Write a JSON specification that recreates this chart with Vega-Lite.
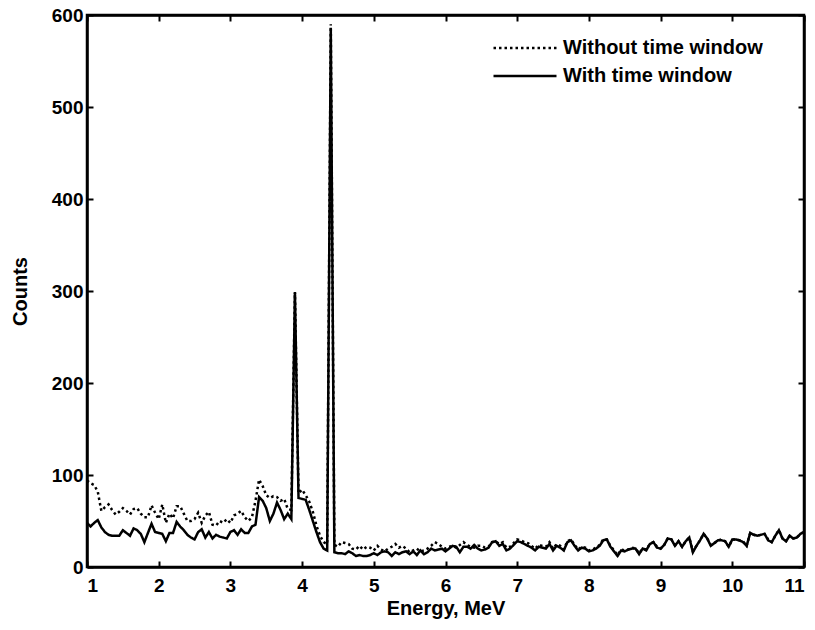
{
"$schema": "https://vega.github.io/schema/vega-lite/v6.json",
"width": 717, "height": 552,
"autosize": "none",
"padding": {"left": 87, "top": 15, "right": 11, "bottom": 63},
"background": "white",
"config": {
  "view": {"stroke": "black", "strokeWidth": 2.5},
  "axis": {"domainColor": "black", "domainWidth": 2.5, "tickColor": "black", "tickWidth": 2, "tickSize": -6, "grid": false,
    "labelFont": "Liberation Sans", "labelFontWeight": "bold", "labelFontSize": 19, "labelColor": "black",
    "titleFont": "Liberation Sans", "titleFontWeight": "bold", "titleFontSize": 20, "titleColor": "black"}
},
"data": {"values": [
{"E":1.00,"wo":94,"w":48},{"E":1.05,"wo":91,"w":44},{"E":1.10,"wo":89,"w":48},{"E":1.15,"wo":82,"w":51},{"E":1.20,"wo":61,"w":43},
{"E":1.25,"wo":65,"w":38},{"E":1.30,"wo":68,"w":35},{"E":1.35,"wo":62,"w":34},{"E":1.40,"wo":57,"w":34},{"E":1.45,"wo":60,"w":34},
{"E":1.50,"wo":64,"w":40},{"E":1.55,"wo":61,"w":37},{"E":1.60,"wo":57,"w":34},{"E":1.65,"wo":63,"w":42},{"E":1.70,"wo":64,"w":40},
{"E":1.75,"wo":58,"w":36},{"E":1.80,"wo":54,"w":27},{"E":1.85,"wo":54,"w":37},{"E":1.90,"wo":67,"w":47},{"E":1.95,"wo":59,"w":38},
{"E":2.00,"wo":52,"w":37},{"E":2.05,"wo":68,"w":36},{"E":2.10,"wo":48,"w":28},{"E":2.15,"wo":58,"w":37},{"E":2.20,"wo":53,"w":37},
{"E":2.25,"wo":66,"w":49},{"E":2.30,"wo":66,"w":44},{"E":2.35,"wo":58,"w":40},{"E":2.40,"wo":50,"w":35},{"E":2.45,"wo":50,"w":32},
{"E":2.50,"wo":52,"w":30},{"E":2.55,"wo":59,"w":38},{"E":2.60,"wo":48,"w":41},{"E":2.65,"wo":56,"w":32},{"E":2.70,"wo":60,"w":38},
{"E":2.75,"wo":46,"w":31},{"E":2.80,"wo":45,"w":35},{"E":2.85,"wo":50,"w":33},{"E":2.90,"wo":48,"w":32},{"E":2.95,"wo":52,"w":31},
{"E":3.00,"wo":48,"w":38},{"E":3.05,"wo":56,"w":40},{"E":3.10,"wo":58,"w":35},{"E":3.15,"wo":61,"w":41},{"E":3.20,"wo":54,"w":37},
{"E":3.25,"wo":50,"w":37},{"E":3.30,"wo":54,"w":44},{"E":3.35,"wo":72,"w":46},{"E":3.40,"wo":95,"w":76},{"E":3.45,"wo":88,"w":72},
{"E":3.50,"wo":78,"w":64},{"E":3.55,"wo":75,"w":50},{"E":3.60,"wo":77,"w":58},{"E":3.65,"wo":76,"w":70},{"E":3.70,"wo":72,"w":62},
{"E":3.75,"wo":74,"w":52},{"E":3.80,"wo":63,"w":58},{"E":3.85,"wo":62,"w":52},{"E":3.90,"wo":299,"w":298},{"E":3.95,"wo":80,"w":75},
{"E":4.00,"wo":84,"w":74},{"E":4.05,"wo":78,"w":73},{"E":4.10,"wo":71,"w":62},{"E":4.15,"wo":60,"w":50},{"E":4.20,"wo":45,"w":38},
{"E":4.25,"wo":34,"w":27},{"E":4.30,"wo":27,"w":20},{"E":4.35,"wo":25,"w":18},{"E":4.40,"wo":590,"w":586},{"E":4.45,"wo":24,"w":16},
{"E":4.50,"wo":22,"w":15},{"E":4.55,"wo":27,"w":15},{"E":4.60,"wo":26,"w":14},{"E":4.65,"wo":25,"w":17},{"E":4.70,"wo":20,"w":15},
{"E":4.75,"wo":19,"w":12},{"E":4.80,"wo":23,"w":13},{"E":4.85,"wo":19,"w":12},{"E":4.90,"wo":22,"w":12},{"E":4.95,"wo":21,"w":13},
{"E":5.00,"wo":18,"w":15},{"E":5.05,"wo":23,"w":13},{"E":5.10,"wo":19,"w":16},{"E":5.15,"wo":17,"w":17},{"E":5.20,"wo":20,"w":16},
{"E":5.25,"wo":22,"w":12},{"E":5.30,"wo":25,"w":16},{"E":5.35,"wo":21,"w":14},{"E":5.40,"wo":23,"w":16},{"E":5.45,"wo":20,"w":17},
{"E":5.50,"wo":16,"w":14},{"E":5.55,"wo":18,"w":17},{"E":5.60,"wo":20,"w":13},{"E":5.65,"wo":17,"w":18},{"E":5.70,"wo":18,"w":14},
{"E":5.75,"wo":20,"w":16},{"E":5.80,"wo":23,"w":20},{"E":5.85,"wo":27,"w":18},{"E":5.90,"wo":25,"w":19},{"E":5.95,"wo":22,"w":20},
{"E":6.00,"wo":20,"w":17},{"E":6.05,"wo":22,"w":20},{"E":6.10,"wo":23,"w":23},{"E":6.15,"wo":21,"w":22},{"E":6.20,"wo":24,"w":16},
{"E":6.25,"wo":27,"w":22},{"E":6.30,"wo":24,"w":22},{"E":6.35,"wo":22,"w":20},{"E":6.40,"wo":21,"w":24},{"E":6.45,"wo":23,"w":20},
{"E":6.50,"wo":23,"w":18},{"E":6.55,"wo":21,"w":19},{"E":6.60,"wo":22,"w":21},{"E":6.65,"wo":27,"w":27},{"E":6.70,"wo":28,"w":28},
{"E":6.75,"wo":25,"w":23},{"E":6.80,"wo":27,"w":25},{"E":6.85,"wo":21,"w":18},{"E":6.90,"wo":22,"w":20},{"E":6.95,"wo":26,"w":24},
{"E":7.00,"wo":30,"w":28},{"E":7.05,"wo":29,"w":27},{"E":7.10,"wo":27,"w":25},{"E":7.15,"wo":26,"w":23},{"E":7.20,"wo":23,"w":21},
{"E":7.25,"wo":20,"w":18},{"E":7.30,"wo":24,"w":22},{"E":7.35,"wo":23,"w":21},{"E":7.40,"wo":22,"w":20},{"E":7.45,"wo":27,"w":25},
{"E":7.50,"wo":20,"w":18},{"E":7.55,"wo":25,"w":23},{"E":7.60,"wo":23,"w":21},{"E":7.65,"wo":19,"w":18},{"E":7.70,"wo":28,"w":27},
{"E":7.75,"wo":30,"w":29},{"E":7.80,"wo":24,"w":23},{"E":7.85,"wo":19,"w":18},{"E":7.90,"wo":22,"w":21},{"E":7.95,"wo":21,"w":20},
{"E":8.00,"wo":18,"w":17},{"E":8.05,"wo":19,"w":18},{"E":8.10,"wo":21,"w":20},{"E":8.15,"wo":24,"w":23},{"E":8.20,"wo":30,"w":29},
{"E":8.25,"wo":30,"w":30},{"E":8.30,"wo":23,"w":22},{"E":8.35,"wo":18,"w":17},{"E":8.40,"wo":13,"w":12},{"E":8.45,"wo":19,"w":18},
{"E":8.50,"wo":18,"w":17},{"E":8.55,"wo":19,"w":19},{"E":8.60,"wo":21,"w":20},{"E":8.65,"wo":20,"w":20},{"E":8.70,"wo":15,"w":14},
{"E":8.75,"wo":20,"w":20},{"E":8.80,"wo":19,"w":18},{"E":8.85,"wo":25,"w":25},{"E":8.90,"wo":27,"w":27},{"E":8.95,"wo":22,"w":21},
{"E":9.00,"wo":20,"w":20},{"E":9.05,"wo":24,"w":24},{"E":9.10,"wo":31,"w":31},{"E":9.15,"wo":30,"w":30},{"E":9.20,"wo":24,"w":23},
{"E":9.25,"wo":28,"w":28},{"E":9.30,"wo":22,"w":22},{"E":9.35,"wo":28,"w":28},{"E":9.40,"wo":32,"w":32},{"E":9.45,"wo":17,"w":16},
{"E":9.50,"wo":23,"w":23},{"E":9.55,"wo":29,"w":29},{"E":9.60,"wo":36,"w":36},{"E":9.65,"wo":31,"w":31},{"E":9.70,"wo":24,"w":23},
{"E":9.75,"wo":26,"w":26},{"E":9.80,"wo":29,"w":29},{"E":9.85,"wo":30,"w":29},{"E":9.90,"wo":28,"w":28},{"E":9.95,"wo":22,"w":22},
{"E":10.00,"wo":30,"w":30},{"E":10.05,"wo":30,"w":30},{"E":10.10,"wo":29,"w":29},{"E":10.15,"wo":28,"w":27},{"E":10.20,"wo":23,"w":23},
{"E":10.25,"wo":37,"w":37},{"E":10.30,"wo":35,"w":35},{"E":10.35,"wo":34,"w":34},{"E":10.40,"wo":35,"w":35},{"E":10.45,"wo":36,"w":36},
{"E":10.50,"wo":30,"w":29},{"E":10.55,"wo":27,"w":27},{"E":10.60,"wo":34,"w":34},{"E":10.65,"wo":40,"w":40},{"E":10.70,"wo":31,"w":31},
{"E":10.75,"wo":28,"w":28},{"E":10.80,"wo":34,"w":34},{"E":10.85,"wo":31,"w":31},{"E":10.90,"wo":32,"w":32},{"E":10.95,"wo":36,"w":36},
{"E":11.00,"wo":38,"w":38}
]},
"transform": [{"fold": ["wo", "w"], "as": ["series", "counts"]}],
"layer": [
  {
    "mark": {"type": "line", "color": "black", "strokeWidth": 2.5},
    "encoding": {
      "x": {"field": "E", "type": "quantitative", "scale": {"domain": [1, 11], "nice": false},
        "axis": {"orient": "bottom", "values": [1,2,3,4,5,6,7,8,9,10,11], "title": "Energy, MeV", "labelPadding": 15, "titlePadding": 3}},
      "y": {"field": "counts", "type": "quantitative", "scale": {"domain": [0, 600], "nice": false},
        "axis": {"orient": "left", "values": [0,100,200,300,400,500,600], "title": "Counts", "labelPadding": 10, "titlePadding": 21}},
      "strokeDash": {"field": "series", "type": "nominal",
        "scale": {"domain": ["wo", "w"], "range": [[2.5, 3], [1, 0]]},
        "legend": {"orient": "none", "legendX": 405, "legendY": 21, "title": null, "padding": 0,
          "symbolType": "M-1,0H5", "symbolSize": 441, "symbolStrokeWidth": 2.5, "symbolStrokeColor": "black",
          "labelFont": "Liberation Sans", "labelFontWeight": "bold", "labelFontSize": 20, "labelColor": "black",
          "labelOffset": 47, "labelLimit": 0, "rowPadding": 6,
          "labelExpr": "datum.label == 'wo' ? 'Without time window' : 'With time window'"}}
    }
  },
  {
    "mark": {"type": "line", "opacity": 0},
    "encoding": {
      "x": {"field": "E", "type": "quantitative", "scale": {"domain": [1, 11], "nice": false},
        "axis": {"orient": "top", "values": [1,2,3,4,5,6,7,8,9,10,11], "labels": false, "title": null}},
      "y": {"field": "counts", "type": "quantitative", "scale": {"domain": [0, 600], "nice": false},
        "axis": {"orient": "right", "values": [0,100,200,300,400,500,600], "labels": false, "title": null}},
      "detail": {"field": "series"}
    }
  }
],
"resolve": {"axis": {"x": "independent", "y": "independent"}}
}
